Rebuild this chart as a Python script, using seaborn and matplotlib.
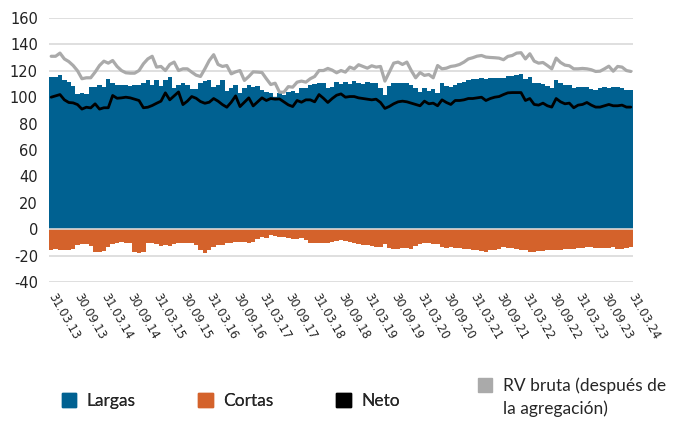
"""Long, short and net equity positions with gross RV exposure, monthly 2013-2024."""

import matplotlib.pyplot as plt
import numpy as np
import pandas as pd
import seaborn as sns
from matplotlib.patches import Patch

# Monthly values, 31.03.13 .. 31.03.24 (133 months)
largas = [
    115.4, 115.6, 117.0, 112.7, 111.4, 108.4, 102.3, 103.5, 102.8, 108.0,
    108.0, 109.6, 108.0, 114.0, 110.6, 109.4, 109.0, 109.0, 108.6, 108.9,
    108.9, 111.0, 112.7, 109.6, 113.0, 108.6, 112.7, 115.0, 107.0, 108.9,
    110.6, 108.9, 106.0, 106.0, 110.6, 112.0, 112.7, 108.0, 109.6, 112.7,
    105.0, 107.0, 109.4, 103.0, 106.6, 109.0, 108.0, 108.6, 105.6, 104.0,
    103.5, 100.5, 103.5, 102.0, 104.3, 104.5, 103.5, 107.0, 107.0, 109.6,
    110.0, 110.6, 111.0, 107.0, 108.0, 111.4, 110.0, 111.4, 110.0, 112.0,
    110.6, 110.0, 111.6, 110.6, 110.6, 107.0, 102.0, 108.6, 110.6, 111.0,
    110.6, 110.6, 109.0, 107.0, 103.8, 107.0, 105.0, 106.0, 103.0, 110.6,
    108.6, 108.0, 109.0, 110.6, 111.4, 112.7, 114.0, 114.0, 114.7, 114.0,
    114.2, 114.4, 114.4, 114.7, 116.0, 116.0, 116.7, 117.7, 114.0, 115.2,
    110.6, 111.0, 110.0, 108.6, 107.0, 113.0, 111.0, 109.6, 108.9, 107.0,
    108.0, 107.6, 108.0, 106.3, 105.6, 107.0, 108.0, 107.0, 108.0, 107.6,
    107.0, 105.6, 105.6,
]
cortas = [
    -15.6, -15.1, -15.6, -15.6, -15.6, -15.1, -12.2, -11.2, -11.2, -12.7,
    -16.9, -17.6, -16.4, -13.2, -11.4, -10.2, -9.4, -10.2, -10.7, -16.9,
    -18.1, -17.4, -10.7, -10.7, -11.4, -12.4, -11.7, -12.4, -11.4, -10.7,
    -10.4, -10.7, -10.2, -11.9, -16.1, -18.1, -16.1, -13.2, -11.9, -11.9,
    -10.7, -10.7, -9.9, -9.4, -9.9, -10.7, -9.9, -7.7, -5.7, -6.5,
    -4.5, -5.2, -6.2, -6.2, -6.7, -7.2, -7.4, -6.9, -8.2, -10.7,
    -10.2, -10.7, -10.2, -10.7, -9.4, -8.7, -8.2, -8.7, -9.4, -10.7,
    -11.4, -11.9, -12.2, -12.4, -13.2, -13.6, -11.2, -14.4, -15.1, -14.9,
    -14.6, -13.9, -15.1, -12.7, -11.4, -10.7, -10.7, -11.2, -11.4, -13.6,
    -13.9, -13.6, -14.4, -13.9, -14.9, -15.1, -15.6, -16.1, -16.4, -17.4,
    -16.1, -15.6, -15.1, -13.6, -14.1, -14.6, -15.1, -15.6, -16.1, -16.9,
    -16.9, -16.6, -16.4, -16.1, -16.1, -15.6, -15.6, -15.1, -14.9, -15.1,
    -14.4, -14.4, -13.2, -13.6, -13.9, -14.1, -14.4, -14.1, -13.2, -14.9,
    -15.1, -13.9, -13.4,
]
neto = [
    100.0, 101.0, 102.0, 98.0, 96.0, 95.7, 94.4, 91.0, 92.4, 91.9,
    95.0, 91.0, 92.0, 92.0, 101.3, 99.2, 99.5, 100.0, 99.5, 98.5,
    97.5, 92.0, 92.4, 93.7, 95.4, 97.0, 103.3, 98.0, 101.0, 104.0,
    94.4, 97.0, 100.5, 99.2, 96.7, 95.4, 96.2, 99.0, 97.0, 94.4,
    92.4, 96.2, 101.0, 92.9, 96.2, 99.5, 93.4, 96.5, 99.5, 97.5,
    99.0, 98.5, 98.7, 96.5, 94.2, 92.9, 97.5, 96.2, 98.0, 98.0,
    96.5, 102.0, 99.2, 96.0, 99.0, 101.5, 102.5, 100.0, 100.5, 100.5,
    99.5, 99.0, 98.5, 98.0, 98.5, 96.0, 91.5, 93.0, 95.0, 96.5,
    97.0, 96.5, 95.5, 94.5, 93.5, 97.0, 95.0, 95.5, 93.5, 98.0,
    96.0, 94.5, 97.5, 97.5, 98.0, 99.0, 99.0, 99.5, 100.0, 97.5,
    99.0, 100.0, 100.5, 102.0, 103.3, 103.5, 103.5, 103.5, 97.5, 99.0,
    94.5, 94.0, 95.5, 93.5, 92.5, 99.0, 96.5, 95.0, 95.5, 92.0,
    94.0, 94.5, 96.0, 94.0, 92.5, 92.5, 93.5, 94.5, 93.5, 93.5,
    94.0, 92.5, 92.5,
]
rv_bruta = [
    131.0, 131.0, 133.4, 129.0, 127.0, 124.0, 120.0, 114.0, 114.7, 114.7,
    119.0, 124.0, 127.3, 125.8, 127.8, 123.3, 120.2, 118.5, 118.2, 118.2,
    120.2, 125.3, 129.0, 131.0, 122.8, 123.3, 120.2, 124.8, 126.6, 120.2,
    121.5, 121.5, 119.0, 116.7, 115.7, 121.5, 127.8, 132.2, 124.8, 123.3,
    124.0, 117.7, 119.2, 120.2, 112.7, 115.7, 119.2, 119.0, 118.7, 114.0,
    109.6, 110.6, 103.8, 103.8, 108.0, 107.6, 111.4, 112.2, 111.4, 114.0,
    115.7, 120.2, 120.2, 121.8, 120.5, 118.5, 120.2, 119.0, 122.8, 121.5,
    124.6, 123.3, 122.0, 123.8, 122.8, 123.3, 112.2, 119.0, 125.8, 126.6,
    124.8, 126.6, 120.2, 114.7, 118.7, 116.5, 117.2, 114.7, 124.0, 121.5,
    122.0, 123.3, 123.8, 124.8, 126.6, 129.0, 129.9, 131.1, 131.6, 130.4,
    130.1, 129.9, 129.6, 128.4, 130.9, 131.6, 133.4, 133.7, 129.0, 132.9,
    127.3, 125.8, 126.3, 124.0, 121.5, 129.6, 126.3, 124.3, 123.8, 121.5,
    121.5, 121.8, 121.5, 120.8, 119.5, 119.7, 121.5, 123.5, 119.7, 123.3,
    122.8, 120.2, 119.5,
]
tick_labels = [
    "31.03.13", "30.09.13", "31.03.14", "30.09.14", "31.03.15", "30.09.15",
    "31.03.16", "30.09.16", "31.03.17", "30.09.17", "31.03.18", "30.09.18",
    "31.03.19", "30.09.19", "31.03.20", "30.09.20", "31.03.21", "30.09.21",
    "31.03.22", "30.09.22", "31.03.23", "30.09.23", "31.03.24",
]

BLUE = "#006191"
ORANGE = "#d4622b"
GREY = "#aaaaaa"

df = pd.DataFrame(
    {
        "mes": np.arange(len(largas)),
        "Largas": largas,
        "Cortas": cortas,
        "Neto": neto,
        "RV bruta": rv_bruta,
    }
)

sns.set_style("white")
plt.rcParams["font.family"] = ["DejaVu Sans"]

fig = plt.figure(figsize=(6.82, 4.23), dpi=100)
ax = fig.add_axes([49 / 682, 1 - 282 / 423, 584 / 682, 264 / 423])

for y in range(-40, 161, 20):
    ax.axhline(y, color="#d9d9d9", lw=1.2, zorder=0)

sns.barplot(data=df, x="mes", y="Largas", color=BLUE, width=1.0,
            saturation=1, linewidth=0, ax=ax, zorder=2)
sns.barplot(data=df, x="mes", y="Cortas", color=ORANGE, width=1.0,
            saturation=1, linewidth=0, ax=ax, zorder=2)
# no hairline seams between neighbouring bars
for p in ax.patches:
    p.set_antialiased(False)
ax.axhline(0, color="#d9d9d9", lw=1.2, zorder=3)

sns.lineplot(data=df, x="mes", y="RV bruta", color=GREY, lw=2.3, ax=ax, zorder=4)
sns.lineplot(data=df, x="mes", y="Neto", color="black", lw=2.0, ax=ax, zorder=5)

ax.set_xlim(-0.5, len(largas) - 0.5)
ax.set_ylim(-40, 160)
ax.set_yticks(range(-40, 161, 20))
ax.set_yticklabels([str(v) for v in range(-40, 161, 20)],
                   fontfamily="DejaVu Sans", fontsize=10.5, color="#222222")
ax.tick_params(axis="y", length=0, pad=8)
ax.set_xticks(np.arange(0, len(largas), 6))
ax.set_xticklabels(tick_labels, rotation=-60, ha="left", va="center",
                   rotation_mode="anchor", fontfamily="DejaVu Sans",
                   fontsize=8.3, color="#222222")
ax.tick_params(axis="x", length=0, pad=9)
ax.set_xlabel("")
ax.set_ylabel("")
sns.despine(ax=ax, left=True, bottom=True)

legend_font = {"family": "Lato", "size": 12.5, "weight": "normal"}
handles = [Patch(color=BLUE), Patch(color=ORANGE), Patch(color="black")]
leg1 = fig.legend(handles, ["Largas", "Cortas", "Neto"], ncol=3,
                  loc="center left", bbox_to_anchor=(46 / 682, 1 - 401 / 423),
                  frameon=False, prop=legend_font, handlelength=0.85,
                  handleheight=0.85, handletextpad=0.6, columnspacing=3.6)
leg2 = fig.legend([Patch(color=GREY)], ["RV bruta (después de"],
                  loc="center left", bbox_to_anchor=(462 / 682, 1 - 386 / 423),
                  frameon=False, prop=legend_font, handlelength=0.85,
                  handleheight=0.85, handletextpad=0.6)
fig.add_artist(leg1)

# second line of the grey entry, aligned under the first line's text
fig.canvas.draw()
x0 = leg2.get_texts()[0].get_window_extent().x0
fig.text(x0 / fig.bbox.width, 1 - 409 / 423, "la agregación)",
         fontfamily="Lato", fontsize=12.5, va="center", ha="left")

fig.savefig("out.png", dpi=100)
